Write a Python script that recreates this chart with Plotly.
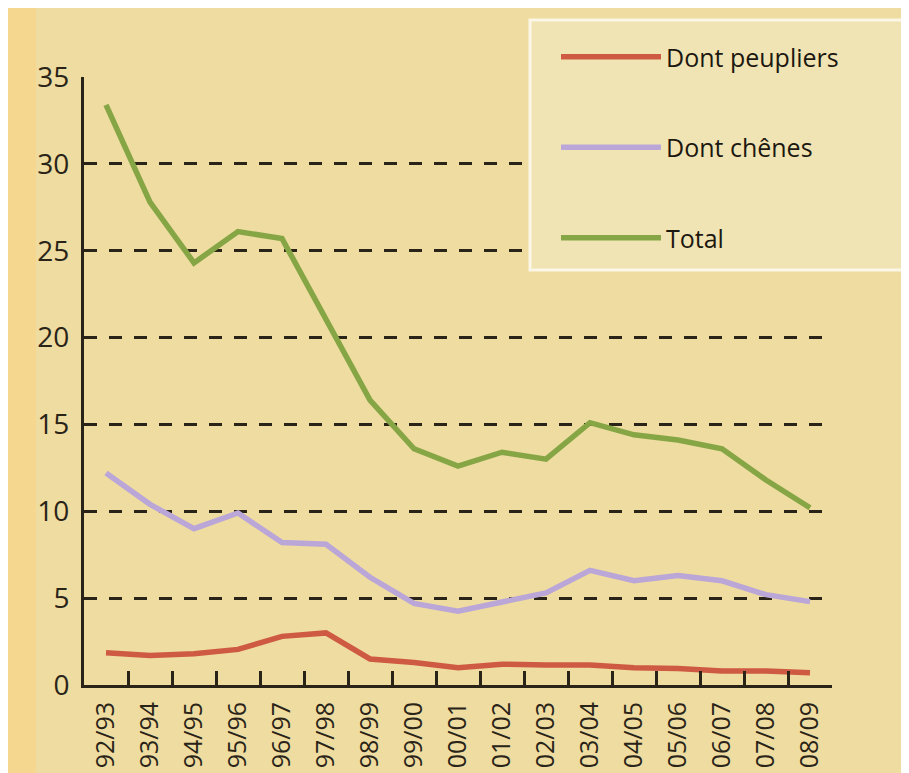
import plotly.graph_objects as go

campagnes = ["92/93", "93/94", "94/95", "95/96", "96/97", "97/98", "98/99", "99/00",
             "00/01", "01/02", "02/03", "03/04", "04/05", "05/06", "06/07", "07/08", "08/09"]
peupliers = [1.85, 1.7, 1.8, 2.05, 2.8, 3.0, 1.5, 1.3, 1.0, 1.2, 1.15, 1.15, 1.0, 0.95, 0.8, 0.8, 0.7]
chenes = [12.2, 10.4, 9.0, 9.9, 8.2, 8.1, 6.2, 4.7, 4.25, 4.8, 5.3, 6.6, 6.0, 6.3, 6.0, 5.2, 4.8]
total = [33.4, 27.8, 24.3, 26.1, 25.7, 21.0, 16.4, 13.6, 12.6, 13.4, 13.0, 15.1, 14.4, 14.1, 13.6, 11.8, 10.2]
y_ticks = [0, 5, 10, 15, 20, 25, 30, 35]

series = [
    ("Dont peupliers", peupliers, "#cf5a43"),
    ("Dont chênes", chenes, "#bba6d8"),
    ("Total", total, "#86a645"),
]

FONT = "Open Sans"
INK = "#2a2418"

OFF = 8  # page body margin
W, H = 909 - OFF, 773 - OFF
L, R, T, B = 84 - OFF, 77, 77 - OFF, 88
pw = W - L - R
ph = H - T - B


def px_x(x):  # screen pixel -> paper fraction
    return (x - OFF - L) / pw


def px_y(y):
    return (H - B - (y - OFF)) / ph


fig = go.Figure()
for i, (name, vals, col) in enumerate(series):
    fig.add_trace(go.Scatter(
        x=campagnes, y=vals, name=name, mode="lines",
        line=dict(color=col, width=5.5),
        legendgroup=str(i),
    ))

fig.update_layout(
    width=W, height=H,
    paper_bgcolor="#eedca0",
    plot_bgcolor="rgba(0,0,0,0)",
    margin=dict(l=L, r=R, t=T, b=B, autoexpand=False),
    font=dict(family=FONT, color=INK, size=26),
    showlegend=True,
    legend=dict(
        x=px_x(556), xanchor="left", y=px_y(34), yanchor="top",
        bgcolor="rgba(0,0,0,0)", borderwidth=0,
        font=dict(size=25, family=FONT, color="#1c1810"),
        tracegroupgap=55, itemwidth=100,
    ),
    shapes=[
        dict(type="rect", xref="paper", yref="paper",
             x0=px_x(8), x1=px_x(36), y0=px_y(773), y1=px_y(8),
             fillcolor="#f5d78f", line=dict(width=0), layer="below"),
        dict(type="rect", xref="paper", yref="paper",
             x0=px_x(530), x1=px_x(905), y0=px_y(270), y1=px_y(20),
             fillcolor="#f1e4b4", line=dict(color="#fbf6e6", width=3), layer="above"),
    ],
)

fig.update_xaxes(
    type="category", range=[-0.5, 16.5],
    showline=True, linecolor=INK, linewidth=3,
    ticks="inside", ticklen=14, tickwidth=2.5, tickcolor=INK, tickson="boundaries",
    tickangle=-90, showgrid=False, zeroline=False,
    tickfont=dict(size=25, family=FONT, color=INK),
    ticklabelstandoff=4,
)
fig.update_yaxes(
    range=[0, 35], tickvals=y_ticks, ticktext=[str(v) for v in y_ticks],
    showline=True, linecolor=INK, linewidth=3,
    ticks="", showgrid=True, gridcolor=INK, gridwidth=3, griddash="13px,12px",
    zeroline=False,
    tickfont=dict(size=28, family=FONT, color=INK),
    ticklabelstandoff=6,
)

fig.write_html("out.html")
